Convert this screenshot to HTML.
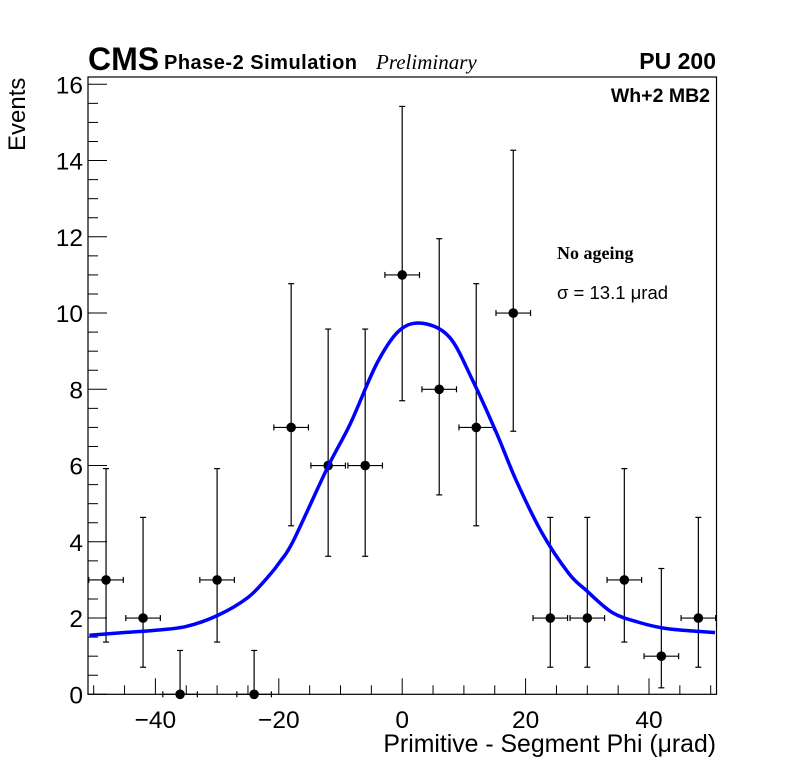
<!DOCTYPE html>
<html><head><meta charset="utf-8"><style>
body{margin:0;background:#fff}
svg{display:block;font-family:"Liberation Sans",sans-serif}
</style></head><body>
<svg id="c" width="796" height="772" viewBox="0 0 796 772">
<rect width="796" height="772" fill="#fff"/>
<g id="ax"></g><g id="marks"></g>
<text x="88" y="70" font-size="32" font-weight="bold">CMS</text>
<text x="164" y="69" font-size="20" font-weight="bold" textLength="193">Phase-2 Simulation</text>
<text x="376" y="69" font-size="21" font-style="italic" font-family="Liberation Serif,serif">Preliminary</text>
<text x="716" y="69" font-size="23" font-weight="bold" text-anchor="end">PU 200</text>
<text x="710" y="102" font-size="19.5" font-weight="bold" text-anchor="end">Wh+2 MB2</text>
<text x="557" y="259" font-size="18" font-weight="bold" font-family="Liberation Serif,serif">No ageing</text>
<text x="557" y="299" font-size="18.5">σ = 13.1 μrad</text>
<text x="716" y="752" font-size="24.8" text-anchor="end">Primitive - Segment Phi (μrad)</text>
<text transform="translate(25,151) rotate(-90)" font-size="24">Events</text>
</svg>
<script>
const binCenters=[-48,-42,-36,-30,-24,-18,-12,-6,0,6,12,18,24,30,36,42,48];
const counts=[3,2,0,3,0,7,6,6,11,8,7,10,2,2,3,1,2];
const errLow=[1.63,1.29,0,1.63,0,2.58,2.38,2.38,3.3,2.77,2.58,3.1,1.29,1.29,1.63,0.83,1.29];
const errHigh=[2.92,2.64,1.15,2.92,1.15,3.77,3.58,3.58,4.42,3.95,3.77,4.27,2.64,2.64,2.92,2.3,2.64];
const fitX=[-50.7,-45,-40,-35,-29.9,-25,-21.8,-19.7,-17.6,-12.1,-8.4,-4.1,-0.4,3.4,7.7,11.4,15.3,18.5,22.7,27,29.8,34,38.3,42.6,48,50.7];
const fitY=[1.55,1.62,1.68,1.78,2.07,2.54,3.07,3.5,4.04,5.95,7.1,8.68,9.55,9.73,9.36,8.24,6.85,5.6,4.22,3.17,2.73,2.15,1.89,1.73,1.65,1.62];
const xTicks=[-40,-20,0,20,40];
const yTicks=[0,2,4,6,8,10,12,14,16];
const L=88,R=716.5,T=77,B=694.3;
const sx=v=>402.2+6.17*v, sy=v=>694.3-38.125*v;
const NS='http://www.w3.org/2000/svg';
function mk(p,t,a){const e=document.createElementNS(NS,t);for(const k in a)e.setAttribute(k,a[k]);p.appendChild(e);return e;}
const ax=document.getElementById('ax'),mg=document.getElementById('marks');
const fr=mk(ax,'rect',{x:L,y:T,width:R-L,height:B-T,fill:'none',stroke:'#000','stroke-width':1.2});


for(let v=-50;v<=50;v+=5){const maj=v%20===0;const x=sx(v);if(x<L||x>R)continue;
 const t=mk(ax,'line',{x1:x,x2:x,y1:B,y2:B-(maj?16:9),stroke:'#000'});
 
 }
xTicks.forEach(v=>{const t=mk(ax,'text',{x:sx(v),y:728,'font-size':24.5,'text-anchor':'middle'});t.textContent=(v<0?'\u2212'+(-v):v);
 
 });
for(let v=0;v<=16.01;v+=0.5){const maj=Math.abs(v%2)<0.01;const y=sy(v);
 const t=mk(ax,'line',{x1:L,x2:L+(maj?19:10),y1:y,y2:y,stroke:'#000'});
 
 }
yTicks.forEach(v=>{const t=mk(ax,'text',{x:83,y:sy(v)+9,'font-size':24.5,'text-anchor':'end'});t.textContent=v;
 
 });
binCenters.forEach((c,i)=>{const g=mk(mg,'g',{stroke:'#000','stroke-width':1.2});
 
 
 const x=sx(c),y=sy(counts[i]),x1=sx(c-2.8),x2=sx(c+2.8),yl=sy(counts[i]-errLow[i]),yh=sy(counts[i]+errHigh[i]);
 mk(g,'line',{x1:x1,x2:x2,y1:y,y2:y});mk(g,'line',{x1:x1,x2:x1,y1:y-3,y2:y+3});mk(g,'line',{x1:x2,x2:x2,y1:y-3,y2:y+3});
 mk(g,'line',{x1:x,x2:x,y1:yl,y2:yh});mk(g,'line',{x1:x-3,x2:x+3,y1:yh,y2:yh});
 if(errLow[i]>0)mk(g,'line',{x1:x-3,x2:x+3,y1:yl,y2:yl});
 mk(g,'circle',{cx:x,cy:y,r:4.8,fill:'#000',stroke:'none'});});
let d='';const P=fitX.map((v,i)=>[sx(v),sy(fitY[i])]);
d='M'+P[0][0]+','+P[0][1];
for(let i=0;i<P.length-1;i++){const p0=P[Math.max(0,i-1)],p1=P[i],p2=P[i+1],p3=P[Math.min(P.length-1,i+2)];
 d+=' C'+(p1[0]+(p2[0]-p0[0])/6)+','+(p1[1]+(p2[1]-p0[1])/6)+' '+(p2[0]-(p3[0]-p1[0])/6)+','+(p2[1]-(p3[1]-p1[1])/6)+' '+p2[0]+','+p2[1];}
const fl=mk(mg,'path',{d:d,fill:'none',stroke:'#0000ff','stroke-width':3.5});


</script>
</body></html>
